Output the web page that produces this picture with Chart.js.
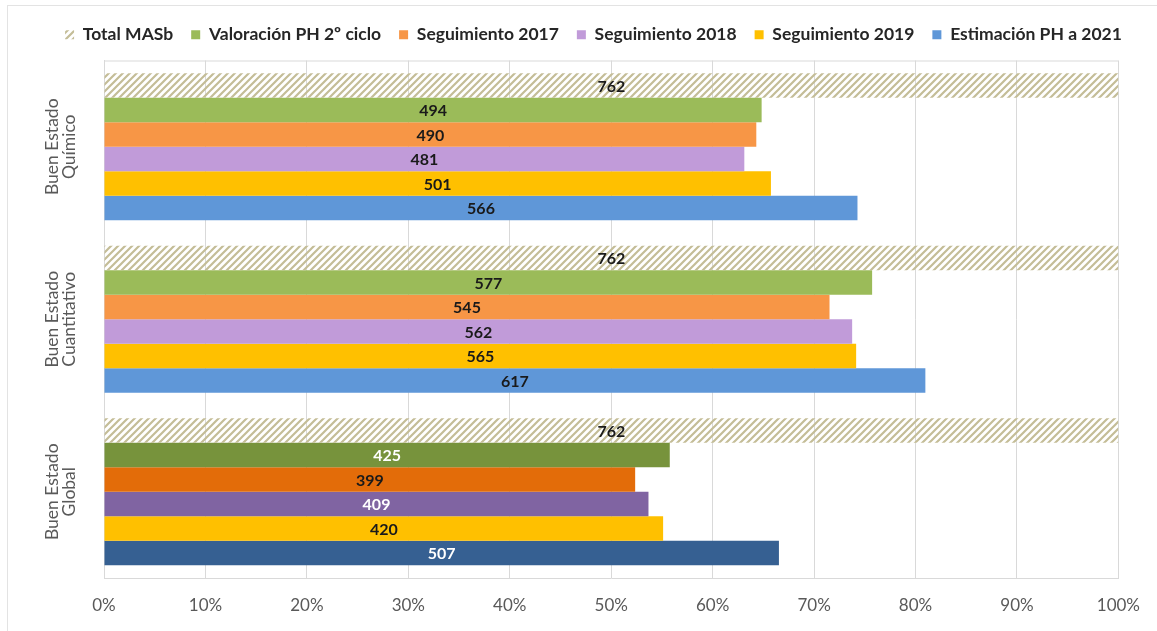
<!DOCTYPE html>
<html>
<head>
<meta charset="utf-8">
<script src="https://cdn.jsdelivr.net/npm/chart.js@4.4.1/dist/chart.umd.min.js"></script>
<style>
  body { margin: 0; background: #fff; }
  #frame { position: absolute; left: 7px; top: 5px; width: 1200px; height: 700px; border: 1px solid #e3e3e3; }
  #wrap { position: absolute; left: 0; top: 0; width: 1157px; height: 631px; }
</style>
</head>
<body>
<div id="frame"></div>
<div id="wrap"><canvas id="grafico" width="1157" height="631"></canvas></div>
<script>
// Datos (número de masas de agua subterránea)
const categorias = [['Buen Estado', 'Químico'], ['Buen Estado', 'Cuantitativo'], ['Buen Estado', 'Global']];
const totalMASb = [762, 762, 762];
const valoracionPH2 = [494, 577, 425];
const seguimiento2017 = [490, 545, 399];
const seguimiento2018 = [481, 562, 409];
const seguimiento2019 = [501, 565, 420];
const estimacion2021 = [566, 617, 507];
const TOTAL = 762;
const ticksPct = [0, 10, 20, 30, 40, 50, 60, 70, 80, 90, 100];

// trama rayada para "Total MASb"
function rayado() {
    const c = document.createElement('canvas');
    c.width = 7; c.height = 7;
    const g = c.getContext('2d');
    g.strokeStyle = '#c4bd97';
    g.lineWidth = 2.2;
    g.beginPath();
    g.moveTo(-1, 8); g.lineTo(8, -1);
    g.moveTo(-4, 4); g.lineTo(4, -4);
    g.moveTo(3, 11); g.lineTo(11, 3);
    g.stroke();
    return document.getElementById('grafico').getContext('2d').createPattern(c, 'repeat');
}

const pct = arr => arr.map(v => v / TOTAL * 100);

const series = [
    { label: 'Total MASb', data: totalMASb, color: [rayado(), rayado(), rayado()], text: ['#1a1a1a', '#1a1a1a', '#1a1a1a'] },
    { label: 'Valoración PH 2º ciclo', data: valoracionPH2, color: ['#9bbb59', '#9bbb59', '#77933c'], text: ['#1a1a1a', '#1a1a1a', '#ffffff'] },
    { label: 'Seguimiento 2017', data: seguimiento2017, color: ['#f79646', '#f79646', '#e36c09'], text: ['#1a1a1a', '#1a1a1a', '#1a1a1a'] },
    { label: 'Seguimiento 2018', data: seguimiento2018, color: ['#c19bd9', '#c19bd9', '#8064a2'], text: ['#1a1a1a', '#1a1a1a', '#ffffff'] },
    { label: 'Seguimiento 2019', data: seguimiento2019, color: ['#ffc000', '#ffc000', '#ffc000'], text: ['#1a1a1a', '#1a1a1a', '#1a1a1a'] },
    { label: 'Estimación PH a 2021', data: estimacion2021, color: ['#5f97d8', '#5f97d8', '#366092'], text: ['#1a1a1a', '#1a1a1a', '#ffffff'] }
];

// etiquetas con el número dentro de cada barra + nombres de categoría girados
const etiquetas = {
    id: 'etiquetas',
    afterLayout(chart) {
        // la leyenda del original está centrada en toda la figura
        chart.legend.left += 30;
        chart.legend.right += 30;
        chart.legend.top -= 7;
        chart.legend.bottom -= 7;
    },
    beforeDatasetsDraw(chart) {
        const a = chart.chartArea, ctx = chart.ctx;
        ctx.save();
        ctx.strokeStyle = '#d9d9d9';
        ctx.lineWidth = 1;
        ctx.beginPath();
        ctx.moveTo(a.left, a.top + 0.5);
        ctx.lineTo(a.right, a.top + 0.5);
        ctx.stroke();
        // categorías
        const y = chart.scales.y;
        ctx.fillStyle = '#595959';
        ctx.font = '17.5px Lato';
        ctx.textAlign = 'center';
        ctx.textBaseline = 'middle';
        chart.data.labels.forEach((lab, i) => {
            const cy = y.getPixelForValue(i);
            lab.forEach((line, k) => {
                ctx.save();
                ctx.translate(52 + k * 17, cy);
                ctx.rotate(-Math.PI / 2);
                ctx.fillText(line, 0, 0);
                ctx.restore();
            });
        });
        ctx.restore();
    },
    afterDatasetsDraw(chart) {
        const ctx = chart.ctx;
        ctx.save();
        ctx.font = 'bold 16px Lato';
        ctx.textAlign = 'center';
        ctx.textBaseline = 'middle';
        chart.data.datasets.forEach((ds, i) => {
            chart.getDatasetMeta(i).data.forEach((bar, j) => {
                ctx.fillStyle = ds.textColors[j];
                ctx.fillText(ds.counts[j], (bar.x + bar.base) / 2, bar.y + 1);
            });
        });
        ctx.restore();
    }
};

new Chart(document.getElementById('grafico'), {
    type: 'bar',
    data: {
        labels: categorias,
        datasets: series.map(s => ({
            label: s.label,
            data: pct(s.data),
            counts: s.data,
            textColors: s.text,
            backgroundColor: s.color,
            borderWidth: 0,
            categoryPercentage: 0.853,
            barPercentage: 1
        }))
    },
    options: {
        indexAxis: 'y',
        responsive: false,
        animation: false,
        layout: { padding: { top: 15, left: 8, right: 38, bottom: 10 } },
        scales: {
            x: {
                min: 0,
                max: 100,
                afterBuildTicks: scale => { scale.ticks = ticksPct.map(v => ({ value: v })); },
                afterFit: scale => { scale.height = 43; },
                ticks: {
                    callback: v => v + '%',
                    color: '#595959',
                    font: { family: 'Lato', size: 17 },
                    padding: 17
                },
                grid: { color: '#d9d9d9', drawTicks: false },
                border: { color: '#d9d9d9' }
            },
            y: {
                grid: { display: false },
                border: { color: '#d9d9d9' },
                afterFit: scale => { scale.width = 96; },
                ticks: { display: false }
            }
        },
        plugins: {
            tooltip: { enabled: false },
            legend: {
                position: 'top',
                labels: {
                    boxWidth: 9,
                    boxHeight: 9,
                    padding: 18,
                    color: '#262626',
                    font: { family: 'Lato', size: 17.5, weight: 'bold' }
                }
            }
        }
    },
    plugins: [etiquetas]
});
</script>
</body>
</html>
